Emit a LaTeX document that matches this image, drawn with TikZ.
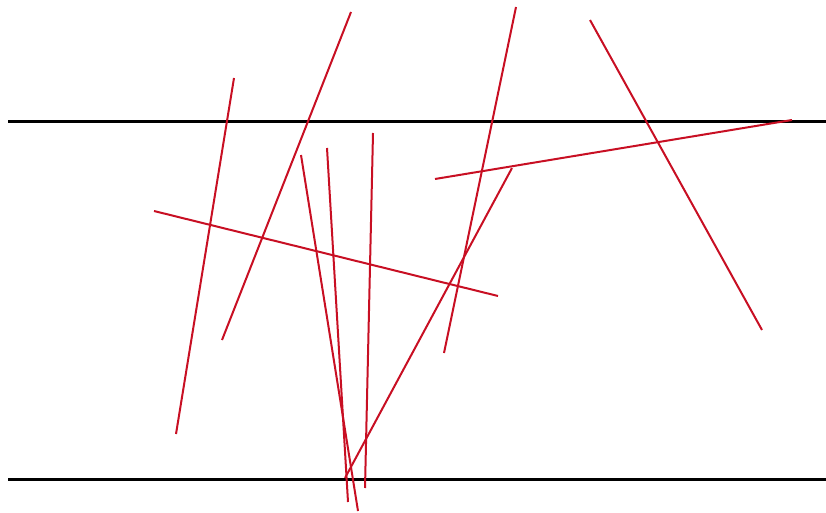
\documentclass[tikz,border=0pt]{standalone}
\begin{document}
\begin{tikzpicture}[x=1pt,y=-1pt,
  rule/.style={draw=black,line width=3pt},
  needle/.style={draw={rgb,255:red,200;green,15;blue,35},line width=2pt}]
\useasboundingbox (0,0) rectangle (826,513);
\coordinate (r1a) at (8,122); \coordinate (r1b) at (826,122);
\coordinate (r2a) at (8,479); \coordinate (r2b) at (826,479);
\draw[rule] (r1a) -- (r1b);
\draw[rule] (r2a) -- (r2b);
\coordinate (n1a) at (234,78);  \coordinate (n1b) at (176,434);
\coordinate (n2a) at (351,12);  \coordinate (n2b) at (222,340);
\coordinate (n3a) at (516,7);   \coordinate (n3b) at (444,353);
\coordinate (n4a) at (590,20);  \coordinate (n4b) at (762,330);
\coordinate (n5a) at (154,211); \coordinate (n5b) at (498,296);
\coordinate (n6a) at (435,179); \coordinate (n6b) at (792,120);
\coordinate (n7a) at (301,155); \coordinate (n7b) at (358,511);
\coordinate (n8a) at (327,148); \coordinate (n8b) at (348,502);
\coordinate (n9a) at (373,133); \coordinate (n9b) at (365,488);
\coordinate (n10a) at (512,168); \coordinate (n10b) at (345,478);
\foreach \i in {1,...,10} {\draw[needle] (n\i a) -- (n\i b);}
\end{tikzpicture}
\end{document}
